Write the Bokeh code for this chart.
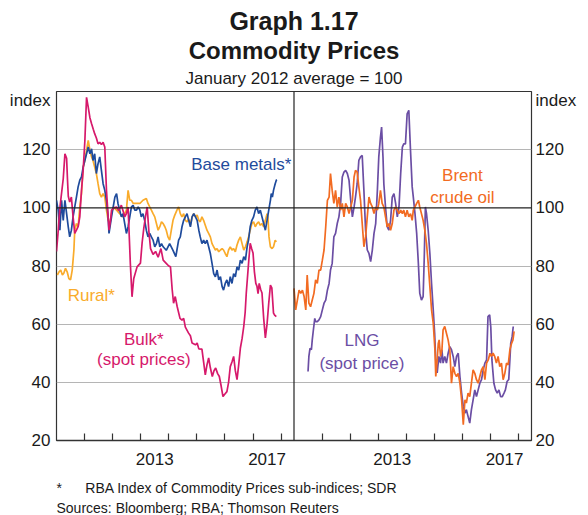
from bokeh.plotting import figure
from bokeh.models import (ColumnDataSource, FixedTicker, LinearAxis, Span, Label, Title,
                          CustomJSTickFormatter, Range1d)
from bokeh.transform import dodge
from bokeh.embed import file_html
from bokeh.resources import INLINE

# ---------------- data (decimal years, index Jan 2012 = 100) ----------------
bulk_t = [2010.00, 2010.06, 2010.12, 2010.24, 2010.30, 2010.36, 2010.39, 2010.42, 2010.47, 2010.53,
          2010.59, 2010.65, 2010.71, 2010.77, 2010.83, 2010.89, 2010.95, 2011.01, 2011.07, 2011.13,
          2011.19, 2011.25, 2011.31, 2011.36, 2011.42, 2011.48, 2011.54, 2011.60, 2011.66, 2011.72,
          2011.78, 2011.87, 2011.93, 2011.96, 2012.05, 2012.14, 2012.22, 2012.31, 2012.37, 2012.43,
          2012.49, 2012.55, 2012.63, 2012.69, 2012.75, 2012.87, 2012.99, 2013.05, 2013.11, 2013.17,
          2013.23, 2013.29, 2013.35, 2013.44, 2013.53, 2013.62, 2013.72, 2013.80, 2013.90, 2014.00,
          2014.06, 2014.12, 2014.17, 2014.23, 2014.30, 2014.40, 2014.47, 2014.53, 2014.59, 2014.70,
          2014.77, 2014.83, 2014.95, 2015.01, 2015.07, 2015.18, 2015.24, 2015.30, 2015.36, 2015.42,
          2015.48, 2015.55, 2015.61, 2015.67, 2015.74, 2015.80, 2015.86, 2015.93, 2016.00, 2016.07,
          2016.13, 2016.19, 2016.25, 2016.31, 2016.37, 2016.43, 2016.49, 2016.55, 2016.61, 2016.67,
          2016.72, 2016.76, 2016.81, 2016.85, 2016.90, 2016.95, 2017.00, 2017.05, 2017.10, 2017.14,
          2017.18, 2017.22, 2017.27, 2017.32, 2017.38, 2017.44, 2017.50, 2017.56, 2017.62, 2017.67,
          2017.73, 2017.78, 2017.83]
bulk_v = [85, 92, 100, 110, 118.6, 117, 110, 104, 102, 103.7,
          97, 91.2, 92.3, 93.5, 96.9, 106, 113, 123, 138, 134.6,
          131, 128.9, 127, 125.5, 124, 122, 122.5, 121.8, 122.5, 120.9,
          106, 92.3, 96, 99.2, 100, 100.3, 99, 100.9, 99, 96.9,
          98, 100.3, 80.9, 69.4, 75.6, 79.7, 81, 88, 93, 97,
          100.3, 92, 86, 84, 85, 83, 86, 82, 81, 80,
          79.7, 72, 67.2, 69.5, 66, 62, 61.4, 62, 59, 57,
          56, 53.5, 52.9, 53.5, 51.5, 51.4, 47, 42.6, 46, 48.4,
          45, 42, 44, 44.9, 43, 42, 39, 35.1, 36, 36.8,
          40, 45.4, 47, 48.9, 44, 40.9, 46, 51.8, 55, 59.2,
          64, 70.7, 77, 82, 87.8, 86, 84.5, 78, 74, 73.1,
          70.5, 74, 72, 70.7, 62, 55.3, 60, 67.2, 73.4, 72.5,
          63.8, 63, 62.6]

base_t = [2010.00, 2010.06, 2010.12, 2010.18, 2010.24, 2010.30, 2010.36, 2010.42, 2010.47, 2010.53,
          2010.59, 2010.65, 2010.71, 2010.77, 2010.83, 2010.89, 2010.95, 2011.01, 2011.07, 2011.13,
          2011.19, 2011.25, 2011.30, 2011.36, 2011.42, 2011.48, 2011.54, 2011.60, 2011.66, 2011.72,
          2011.78, 2011.84, 2011.87, 2011.96, 2012.02, 2012.08, 2012.14, 2012.19, 2012.25, 2012.31,
          2012.37, 2012.43, 2012.49, 2012.55, 2012.61, 2012.67, 2012.73, 2012.79, 2012.85, 2012.91,
          2012.97, 2013.02, 2013.08, 2013.14, 2013.20, 2013.26, 2013.32, 2013.38, 2013.44, 2013.50,
          2013.56, 2013.62, 2013.68, 2013.74, 2013.80, 2013.91, 2014.03, 2014.15, 2014.25, 2014.29,
          2014.35, 2014.41, 2014.47, 2014.53, 2014.59, 2014.65, 2014.71, 2014.77, 2014.83, 2014.89,
          2014.95, 2015.01, 2015.07, 2015.12, 2015.18, 2015.24, 2015.30, 2015.36, 2015.42, 2015.48,
          2015.54, 2015.60, 2015.66, 2015.72, 2015.78, 2015.84, 2015.90, 2015.95, 2016.01, 2016.07,
          2016.13, 2016.19, 2016.25, 2016.31, 2016.37, 2016.43, 2016.49, 2016.55, 2016.61, 2016.67,
          2016.73, 2016.79, 2016.84, 2016.90, 2016.96, 2017.02, 2017.08, 2017.14, 2017.20, 2017.26,
          2017.32, 2017.38, 2017.44, 2017.50, 2017.56, 2017.62, 2017.65, 2017.69, 2017.73, 2017.79,
          2017.83, 2017.85]
base_v = [102.6, 99.2, 92.3, 102.6, 95.7, 102.6, 98, 93.4, 90, 92.3,
          96.9, 100.3, 103.7, 107.2, 109.5, 110.6, 114, 116.3, 118.6, 120.9,
          118.6, 120.3, 116.3, 118.6, 111.8, 115.2, 117.5, 112.9, 108.3, 106,
          102.6, 96.9, 91.2, 96.9, 100.3, 103.7, 104.9, 101.5, 99.2, 96.9,
          98, 94.6, 91.2, 93.5, 96.9, 100.3, 100.9, 99.2, 99.2, 100.3,
          99.2, 96.9, 98, 95.7, 92.3, 90, 91.2, 90, 88.9, 86.6,
          87.7, 90, 86.6, 87.7, 86.6, 85.4, 87.7, 85.4, 83.2, 85.5,
          88.9, 90, 93.5, 95.7, 96.9, 98, 95.7, 93.5, 96.9, 98,
          96.9, 95.7, 92.3, 90, 87.7, 88.9, 87.7, 88.9, 86.6, 84.3,
          80.9, 77.4, 76.3, 78.6, 75.2, 76.3, 72.9, 71.7, 74, 75.2,
          72.9, 76.3, 74, 77.4, 76.3, 79.7, 78.6, 82, 80.9, 83.2,
          82, 86.6, 88.9, 93.5, 95.7, 96.9, 99.2, 100.3, 98, 99.2,
          96.9, 94.6, 92.3, 95.7, 99.2, 102.6, 104.9, 103.7, 106, 108.3,
          109.5, 109.7]

rural_t = [2010.03, 2010.09, 2010.15, 2010.21, 2010.26, 2010.32, 2010.38, 2010.44, 2010.50, 2010.56,
           2010.62, 2010.65, 2010.71, 2010.77, 2010.83, 2010.89, 2010.95, 2011.01, 2011.07, 2011.13,
           2011.19, 2011.25, 2011.30, 2011.36, 2011.42, 2011.48, 2011.54, 2011.60, 2011.66, 2011.72,
           2011.78, 2011.84, 2011.90, 2011.96, 2012.02, 2012.14, 2012.25, 2012.37, 2012.49, 2012.55,
           2012.61, 2012.67, 2012.73, 2012.85, 2012.97, 2013.08, 2013.20, 2013.26, 2013.32, 2013.38,
           2013.44, 2013.50, 2013.56, 2013.62, 2013.68, 2013.74, 2013.80, 2013.86, 2013.91, 2013.97,
           2014.03, 2014.09, 2014.15, 2014.21, 2014.29, 2014.35, 2014.41, 2014.47, 2014.53, 2014.59,
           2014.65, 2014.71, 2014.77, 2014.83, 2014.89, 2014.95, 2015.01, 2015.07, 2015.12, 2015.18,
           2015.24, 2015.30, 2015.36, 2015.42, 2015.48, 2015.54, 2015.60, 2015.66, 2015.72, 2015.78,
           2015.84, 2015.90, 2015.95, 2016.01, 2016.07, 2016.13, 2016.19, 2016.25, 2016.31, 2016.37,
           2016.43, 2016.49, 2016.55, 2016.61, 2016.67, 2016.73, 2016.79, 2016.84, 2016.90, 2016.96,
           2017.02, 2017.08, 2017.14, 2017.20, 2017.26, 2017.32, 2017.38, 2017.44, 2017.50, 2017.53,
           2017.57, 2017.62, 2017.68, 2017.73, 2017.79, 2017.83]
rural_v = [76.9, 78, 78.6, 76.9, 77.5, 79.2, 78, 75.7, 75.2, 78.6,
           85.5, 92.3, 94.6, 93.5, 100.3, 104.9, 114, 116.3, 119.8, 123.2,
           119.8, 117.5, 116.3, 114, 111.8, 108.3, 104.9, 103.7, 104.9, 103.7,
           99.2, 95.7, 94.6, 98, 100.3, 99.2, 98, 96.9, 99.2, 106,
           102.6, 102.6, 101.5, 101.5, 101.5, 102.6, 103.2, 101.5, 100.3, 99.2,
           98, 96.9, 94.6, 92.3, 93.5, 95.2, 94.6, 93.5, 92.3, 90,
           88.9, 92.3, 95.7, 97.4, 99.2, 100.3, 98, 96.9, 98, 95.7,
           95.2, 96.3, 94, 96.9, 98, 96.9, 97.5, 95.7, 95.2, 96.9,
           95.7, 94, 92.3, 91.2, 90, 87.7, 86.6, 85.5, 86, 84.9,
           85.5, 86, 85.5, 84.3, 83.2, 85.5, 86.6, 85.5, 86, 84.9,
           87.2, 88.9, 90, 87.7, 85.5, 86.6, 88.3, 90, 92.3, 94.6,
           95.2, 93.5, 94.6, 95.2, 94, 94.6, 93.5, 95.7, 98, 96.9,
           90, 86.6, 86, 86.6, 88.9, 88.3]

brent_t = [2010.00, 2010.06, 2010.12, 2010.18, 2010.24, 2010.30, 2010.36, 2010.42, 2010.47, 2010.53,
           2010.59, 2010.65, 2010.71, 2010.77, 2010.83, 2010.89, 2010.95, 2011.01, 2011.07, 2011.13,
           2011.19, 2011.25, 2011.30, 2011.36, 2011.42, 2011.48, 2011.54, 2011.60, 2011.66, 2011.72,
           2011.78, 2011.84, 2011.90, 2011.96, 2012.02, 2012.08, 2012.14, 2012.19, 2012.25, 2012.31,
           2012.37, 2012.43, 2012.49, 2012.55, 2012.61, 2012.67, 2012.73, 2012.79, 2012.85, 2012.91,
           2012.97, 2013.02, 2013.08, 2013.14, 2013.20, 2013.26, 2013.32, 2013.38, 2013.44, 2013.50,
           2013.56, 2013.62, 2013.68, 2013.74, 2013.80, 2013.86, 2013.91, 2013.97, 2014.03, 2014.09,
           2014.15, 2014.21, 2014.25, 2014.31, 2014.37, 2014.43, 2014.48, 2014.54, 2014.60, 2014.66,
           2014.72, 2014.78, 2014.84, 2014.90, 2014.96, 2015.02, 2015.05, 2015.10, 2015.14, 2015.17,
           2015.22, 2015.27, 2015.31, 2015.37, 2015.43, 2015.49, 2015.55, 2015.61, 2015.67, 2015.73,
           2015.79, 2015.85, 2015.91, 2015.97, 2016.03, 2016.09, 2016.14, 2016.20, 2016.26, 2016.32,
           2016.38, 2016.44, 2016.50, 2016.56, 2016.62, 2016.68, 2016.74, 2016.80, 2016.86, 2016.92,
           2016.98, 2017.03, 2017.09, 2017.15, 2017.21, 2017.27, 2017.33, 2017.39, 2017.45, 2017.51,
           2017.57, 2017.63, 2017.69, 2017.75, 2017.80, 2017.84]
brent_v = [72.3, 64.9, 68.3, 71.7, 70.6, 71.7, 69.5, 64.9, 76.9, 67.2,
           66, 68.3, 70.6, 75.2, 74, 78.6, 78.6, 82, 85.5, 93.5,
           102.6, 103.7, 111.8, 106, 101.5, 106, 100.3, 103.7, 99.2, 101.5,
           96.9, 101.5, 100.3, 98, 100.3, 102.6, 110.6, 112.9, 112.3, 107.2,
           102.6, 94.6, 86.6, 90, 96.9, 103.7, 101.5, 100.3, 98, 100.3,
           99.2, 101.5, 106, 101.5, 100.3, 96.9, 93.5, 94.6, 92.3, 94.6,
           99.2, 100.3, 99.2, 98, 99.2, 98, 99.2, 96.9, 99.2, 96.9,
           98, 95.7, 99.2, 100.3, 101.5, 102.6, 100.3, 98, 95.7, 92.3,
           87.7, 80.9, 72.9, 64.9, 60.3, 51.2, 42, 47.7, 53.4, 54.6,
           48.9, 51.2, 58, 59.2, 56.9, 54.6, 51.2, 39.7, 45.4, 43.1,
           42, 43.1, 39.7, 34, 25.4, 34, 32.9, 36.3, 35.1, 39.7,
           44.3, 43.1, 40.9, 39.7, 42, 44.3, 45.4, 40.9, 46.6, 47.7,
           50, 48.9, 50, 48.9, 46.6, 48.9, 45.4, 46.6, 40.9, 43.1,
           46.6, 46, 51.2, 53.4, 54.6, 57.5]

lng_t = [2010.50, 2010.53, 2010.57, 2010.62, 2010.65, 2010.69, 2010.74, 2010.77, 2010.83, 2010.89,
         2010.95, 2011.01, 2011.07, 2011.13, 2011.19, 2011.25, 2011.30, 2011.36, 2011.42, 2011.48,
         2011.54, 2011.60, 2011.66, 2011.72, 2011.78, 2011.84, 2011.90, 2011.96, 2012.02, 2012.08,
         2012.14, 2012.19, 2012.25, 2012.31, 2012.37, 2012.43, 2012.49, 2012.55, 2012.61, 2012.67,
         2012.73, 2012.79, 2012.85, 2012.91, 2012.97, 2013.02, 2013.08, 2013.12, 2013.17, 2013.20,
         2013.26, 2013.32, 2013.38, 2013.44, 2013.50, 2013.56, 2013.62, 2013.68, 2013.74, 2013.80,
         2013.86, 2013.91, 2013.97, 2014.03, 2014.09, 2014.15, 2014.21, 2014.25, 2014.31, 2014.37,
         2014.43, 2014.48, 2014.54, 2014.60, 2014.64, 2014.68, 2014.72, 2014.78, 2014.84, 2014.90,
         2014.96, 2015.01, 2015.05, 2015.10, 2015.16, 2015.22, 2015.27, 2015.31, 2015.37, 2015.43,
         2015.49, 2015.55, 2015.61, 2015.67, 2015.73, 2015.79, 2015.85, 2015.91, 2015.97, 2016.03,
         2016.09, 2016.14, 2016.20, 2016.26, 2016.32, 2016.38, 2016.44, 2016.50, 2016.56, 2016.62,
         2016.68, 2016.74, 2016.80, 2016.86, 2016.91, 2016.97, 2017.01, 2017.05, 2017.12, 2017.18,
         2017.24, 2017.30, 2017.36, 2017.42, 2017.48, 2017.53, 2017.59, 2017.65, 2017.69, 2017.72,
         2017.77, 2017.81]
lng_v = [43.7, 48.9, 51.7, 51.2, 54.6, 58, 62, 60.9, 60.9, 61.5,
         62.6, 64.9, 67.2, 68.3, 71.7, 74, 78.6, 80.9, 90, 91.2,
         94.6, 96.9, 101.5, 110.6, 112.3, 112.9, 111.8, 109.5, 102.6, 96.9,
         100.3, 103.7, 108.3, 116.3, 117.5, 118, 106, 92.3, 85.5, 84.3,
         81.5, 85.5, 91.2, 94.6, 106, 117.5, 124.3, 127.8, 117.5, 108.3,
         100.3, 93.5, 92.3, 95.7, 103.7, 104.9, 101.5, 96.9, 100.3, 111.8,
         120.9, 122, 122, 132.3, 133.5, 119.8, 107.2, 103.7, 98, 91.2,
         80.9, 70.6, 68.3, 69.5, 83, 100.3, 98, 92.3, 84.3, 74,
         64.9, 56.9, 47.7, 43.2, 48.9, 46.6, 51.2, 46.6, 48.9, 46.6,
         50, 52.3, 51.2, 48.9, 45.4, 48.9, 50, 42, 36.3, 31.7,
         29.4, 30.6, 28.3, 26, 30.6, 34, 37.4, 35.1, 37.4, 39.7,
         40.9, 44.3, 46.6, 47.7, 62.6, 63.2, 59, 47.7, 39.7, 37.4,
         36.3, 37.4, 35.1, 35.1, 36.3, 37.4, 40.3, 41, 47.7, 53.4,
         55.7, 59.2]

y_ticks = [20, 40, 60, 80, 100, 120]
grid_ticks = [40, 60, 80, 120]
unit_tick = 137        # where the "index" unit label sits
year_ticks = [2011, 2012, 2013, 2014, 2015, 2016, 2017, 2018]
year_labels = [2013.5, 2017.5]

# ---------------- layout constants ----------------
X0 = 2010.0
PANEL = 8.46           # years shown per panel
X1 = X0 + PANEL
X2 = X0 + 2 * PANEL
FONT = "Liberation Sans"

C_BASE = "#1f4b9c"
C_RURAL = "#f9ab2b"
C_BULK = "#d6196b"
C_BRENT = "#f26b22"
C_LNG = "#6b4ea4"

p = figure(width=588, height=515, output_backend="svg", toolbar_location=None,
           x_range=Range1d(X0, X2), y_range=Range1d(20, 140),
           min_border_left=56, min_border_right=57, min_border_top=91,
           min_border_bottom=74)
p.background_fill_color = "white"
p.border_fill_color = "white"
p.outline_line_color = "#333333"
p.outline_line_width = 1.2
p.xgrid.visible = False
p.ygrid.ticker = FixedTicker(ticks=grid_ticks)
p.ygrid.grid_line_color = "#b5b5b5"
p.ygrid.grid_line_width = 1.2

# titles (first added sits nearest the plot)
p.title.text = "Graph 1.17"
p.title.align = "center"
p.title.text_font = FONT
p.title.text_font_size = "25px"
p.title.text_font_style = "bold"
p.title.text_color = "#1a1a1a"
p.title.standoff = 0
p.add_layout(Title(text="January 2012 average = 100", align="center", text_font=FONT,
                   text_font_size="17px", text_font_style="normal", text_color="#1a1a1a",
                   standoff=7), "above")
p.add_layout(Title(text="Commodity Prices", align="center", text_font=FONT,
                   text_font_size="24px", text_font_style="bold", text_color="#1a1a1a",
                   standoff=0), "above")

unit_fmt = CustomJSTickFormatter(args=dict(u=unit_tick),
                                 code="return tick == u ? 'index' : String(tick);")

def style_y(ax):
    ax.ticker = FixedTicker(ticks=y_ticks + [unit_tick])
    ax.formatter = unit_fmt
    ax.major_tick_in = 0
    ax.major_tick_out = 0
    ax.minor_tick_in = 0
    ax.minor_tick_out = 0
    ax.axis_line_color = None
    ax.major_label_text_font = FONT
    ax.major_label_text_font_size = "17px"
    ax.major_label_text_color = "#1a1a1a"

style_y(p.yaxis[0])
p.yaxis[0].major_label_standoff = 6
ra = LinearAxis()
style_y(ra)
ra.major_label_standoff = 4
p.add_layout(ra, "right")

xa = p.xaxis[0]
xa.ticker = FixedTicker(ticks=year_labels + [v + PANEL for v in year_labels],
                        minor_ticks=year_ticks + [v + PANEL for v in year_ticks])
xa.formatter = CustomJSTickFormatter(
    args=dict(split=X1, panel=PANEL),
    code="return String(Math.floor(tick > split ? tick - panel : tick));")
xa.major_tick_in = 0
xa.major_tick_out = 0
xa.minor_tick_in = 7
xa.minor_tick_out = 0
xa.minor_tick_line_color = "#333333"
xa.minor_tick_line_width = 1.2
xa.axis_line_color = "#333333"
xa.axis_line_width = 1.5
xa.major_label_standoff = 12
xa.major_label_text_font = FONT
xa.major_label_text_font_size = "17px"
xa.major_label_text_color = "#1a1a1a"

# footnotes (first added sits nearest the plot); a thin blank spacer first
p.add_layout(Title(text="\u00a0", align="left", text_font=FONT, text_font_size="5px",
                   standoff=0), "below")
p.add_layout(Title(text="*\u00a0\u00a0\u00a0\u00a0\u00a0\u00a0RBA Index of Commodity Prices sub-indices; SDR",
                   align="left", offset=0, text_font=FONT, text_font_size="14px",
                   text_font_style="normal", text_color="#1a1a1a", standoff=4), "below")
p.add_layout(Title(text="Sources: Bloomberg; RBA; Thomson Reuters",
                   align="left", offset=0, text_font=FONT, text_font_size="14px",
                   text_font_style="normal", text_color="#1a1a1a", standoff=0), "below")

p.add_layout(Span(location=100, dimension="width", line_color="#222222", line_width=1.2))
p.add_layout(Span(location=X1, dimension="height", line_color="#222222", line_width=1.2))

# left panel
p.line("t", "v", source=ColumnDataSource(dict(t=rural_t, v=rural_v)), color=C_RURAL, line_width=1.7)
p.line("t", "v", source=ColumnDataSource(dict(t=base_t, v=base_v)), color=C_BASE, line_width=1.7)
p.line("t", "v", source=ColumnDataSource(dict(t=bulk_t, v=bulk_v)), color=C_BULK, line_width=1.7)
# right panel (shifted one panel width to the right)
p.line(x=dodge("t", PANEL), y="v", source=ColumnDataSource(dict(t=lng_t, v=lng_v)), color=C_LNG, line_width=1.7)
p.line(x=dodge("t", PANEL), y="v", source=ColumnDataSource(dict(t=brent_t, v=brent_v)), color=C_BRENT, line_width=1.7)

def lab(x, y, text, color, align="left"):
    p.add_layout(Label(x=x, y=y, text=text, text_color=color, text_font=FONT,
                       text_font_size="17px", text_align=align, text_baseline="middle"))

# series labels
lab(2014.80, 115.0, "Base metals*", C_BASE)
lab(2010.40, 70.0, "Rural*", C_RURAL)
lab(2013.11, 54.6, "Bulk*", C_BULK, "center")
lab(2013.11, 47.8, "(spot prices)", C_BULK, "center")
lab(2016.0 + PANEL, 111.2, "Brent", C_BRENT, "center")
lab(2016.0 + PANEL, 103.7, "crude oil", C_BRENT, "center")
lab(2012.42 + PANEL, 54.3, "LNG", C_LNG, "center")
lab(2012.42 + PANEL, 46.4, "(spot price)", C_LNG, "center")

open("out.html", "w").write(file_html(p, INLINE))
